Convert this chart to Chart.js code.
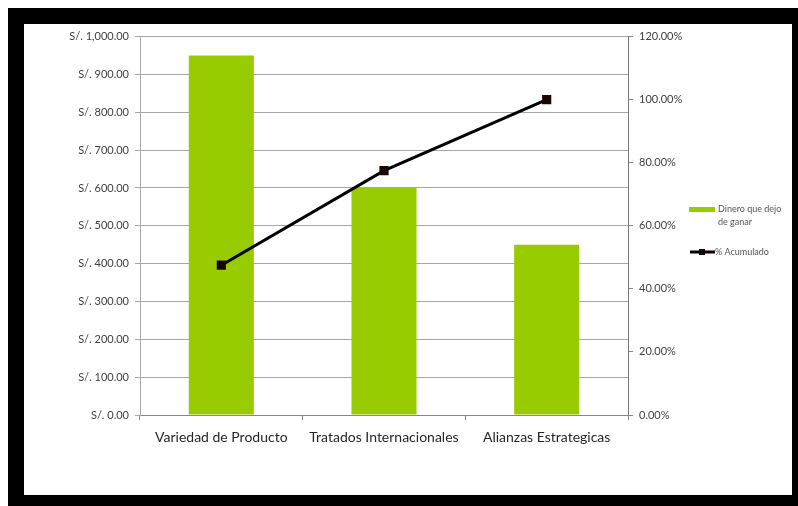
<!DOCTYPE html>
<html><head><meta charset="utf-8">
<script src="https://cdn.jsdelivr.net/npm/chart.js@4"></script>
<style>
html,body{margin:0;padding:0;background:#fff;width:798px;height:506px;overflow:hidden;}
#frame{position:absolute;left:8px;top:8px;width:790px;height:498px;background:#000;}
#inner{position:absolute;left:24px;top:24px;width:768px;height:471px;background:#fff;}
canvas{display:block;}
</style></head>
<body>
<div id="frame"></div>
<div id="inner"><canvas id="c" width="768" height="471"></canvas></div>
<script>
const categories = ["Variedad de Producto", "Tratados Internacionales", "Alianzas Estrategicas"];
const dineroValues = [950, 600, 450];
const acumuladoValues = [0.475, 0.775, 1.0];
const leftTickLabels = ["S/. 0.00","S/. 100.00","S/. 200.00","S/. 300.00","S/. 400.00","S/. 500.00","S/. 600.00","S/. 700.00","S/. 800.00","S/. 900.00","S/. 1,000.00"];
const rightTickLabels = ["0.00%","20.00%","40.00%","60.00%","80.00%","100.00%","120.00%"];
const legendLabels = [["Dinero que dejo","de ganar"],["% Acumulado"]];

const FONT = "Lato, 'Open Sans', sans-serif";
const barColor = "#99cc00";
const lineColor = "#000000";
const markerColor = "#1a0505";

const legendPlugin = {
  id: 'customLegend',
  afterDraw(chart) {
    const ctx = chart.ctx;
    ctx.save();
    ctx.font = "9px " + FONT;
    ctx.textBaseline = "middle";
    ctx.textAlign = "left";
    ctx.fillStyle = chart.data.datasets[1].backgroundColor;
    ctx.fillRect(665, 183, 26, 5);
    ctx.fillStyle = "#555";
    ctx.fillText(legendLabels[0][0], 694, 185);
    ctx.fillText(legendLabels[0][1], 694, 198);
    ctx.strokeStyle = lineColor;
    ctx.lineWidth = 3;
    ctx.beginPath(); ctx.moveTo(666, 228); ctx.lineTo(691, 228); ctx.stroke();
    ctx.fillStyle = markerColor;
    ctx.fillRect(675, 225, 6, 6);
    ctx.fillStyle = "#555";
    ctx.fillText(legendLabels[1][0], 691, 228);
    ctx.restore();
  }
};

new Chart(document.getElementById('c'), {
  data: {
    labels: categories,
    datasets: [
      {
        type: 'line',
        label: '% Acumulado',
        data: acumuladoValues,
        yAxisID: 'y2',
        borderColor: lineColor,
        borderWidth: 3,
        pointStyle: 'rect',
        pointRadius: 6.5,
        pointBackgroundColor: markerColor,
        pointBorderColor: markerColor,
        pointBorderWidth: 0,
        tension: 0,
        order: 0
      },
      {
        type: 'bar',
        label: 'Dinero que dejo de ganar',
        data: dineroValues,
        yAxisID: 'y',
        backgroundColor: barColor,
        borderWidth: 0,
        categoryPercentage: 0.4,
        barPercentage: 1.0,
        order: 1
      }
    ]
  },
  options: {
    responsive: false,
    animation: false,
    devicePixelRatio: 1,
    layout: { padding: { top: 12, left: 0, right: 0, bottom: 0 } },
    plugins: { legend: { display: false }, tooltip: { enabled: false } },
    scales: {
      x: {
        offset: true,
        grid: { display: true, offset: true, drawOnChartArea: false, drawTicks: true, tickLength: 5, color: '#888' },
        border: { display: true, color: '#888' },
        ticks: { font: { family: FONT, size: 14 }, color: '#262626', padding: 9, maxRotation: 0, autoSkip: false },
        afterFit(s) { s.height = 80; }
      },
      y: {
        position: 'left',
        min: 0, max: 1000,
        ticks: {
          stepSize: 100,
          font: { family: FONT, size: 11 }, color: '#404040', padding: 6,
          callback: (v, i) => leftTickLabels[i]
        },
        grid: { color: '#a6a6a6', tickLength: 5, drawTicks: true },
        border: { display: true, color: '#aaa' },
        afterFit(s) { s.width = 116; }
      },
      y2: {
        position: 'right',
        min: 0, max: 1.2,
        ticks: {
          stepSize: 0.2,
          font: { family: FONT, size: 11 }, color: '#404040', padding: 6,
          callback: (v, i) => rightTickLabels[i]
        },
        grid: { drawOnChartArea: false, tickLength: 5, color: '#888' },
        border: { display: true, color: '#777' },
        afterFit(s) { s.width = 164; }
      }
    }
  },
  plugins: [legendPlugin]
});
</script>
</body></html>
